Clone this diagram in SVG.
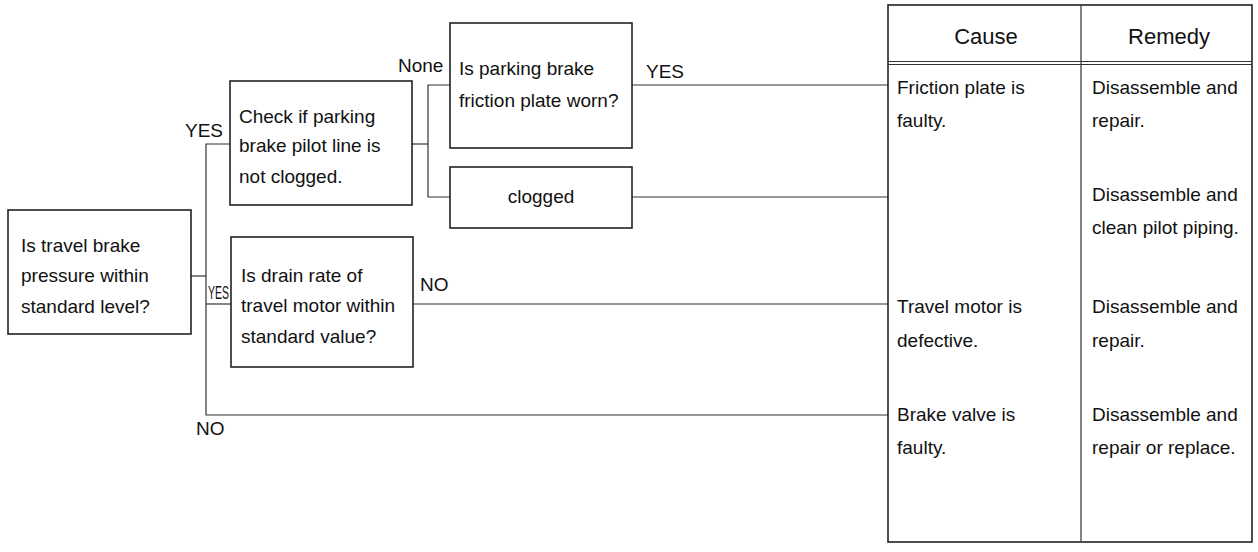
<svg xmlns="http://www.w3.org/2000/svg" width="1258" height="552" viewBox="0 0 1258 552">
<style>
text{font-family:"Liberation Sans",Arial,sans-serif;font-size:19px;fill:#111}
.box{fill:#fff;stroke:#222;stroke-width:1.6}
.ln{fill:none;stroke:#333;stroke-width:1.2}
.tb{fill:none;stroke:#222;stroke-width:1.6}
.hd{font-size:22px}
</style>
<rect width="1258" height="552" fill="#fff"/>
<g id="connectors">
<polyline class="ln" points="191,276 206,276"/>
<polyline class="ln" points="230,144 206,144 206,415 888,415"/>
<polyline class="ln" points="206,304 231,304"/>
<polyline class="ln" points="412,144 428,144"/>
<polyline class="ln" points="450,85 428,85 428,197 450,197"/>
<polyline class="ln" points="632,85 888,85"/>
<polyline class="ln" points="632,197 888,197"/>
<polyline class="ln" points="413,304 888,304"/>
<text x="185" y="137">YES</text>
<text x="208" y="299" textLength="21" lengthAdjust="spacingAndGlyphs">YES</text>
<text x="196" y="435">NO</text>
<text x="398" y="72">None</text>
<text x="646" y="78">YES</text>
<text x="420" y="291">NO</text>
</g>
<g id="n1">
<rect class="box" x="8" y="210" width="183" height="124"/>
<text x="21" y="252">Is travel brake</text>
<text x="21" y="282">pressure within</text>
<text x="21" y="313">standard level?</text>
</g>
<g id="n2">
<rect class="box" x="230" y="81" width="182" height="124"/>
<text x="239" y="123">Check if parking</text>
<text x="239" y="152">brake pilot line is</text>
<text x="239" y="183">not clogged.</text>
</g>
<g id="n3">
<rect class="box" x="231" y="237" width="182" height="130"/>
<text x="241" y="282">Is drain rate of</text>
<text x="241" y="312">travel motor within</text>
<text x="241" y="343">standard value?</text>
</g>
<g id="n4">
<rect class="box" x="450" y="23" width="182" height="125"/>
<text x="459" y="75">Is parking brake</text>
<text x="459" y="107">friction plate worn?</text>
</g>
<g id="n5">
<rect class="box" x="450" y="167" width="182" height="61"/>
<text x="541" y="203" text-anchor="middle">clogged</text>
</g>
<g id="table">
<rect class="tb" x="888" y="5" width="364" height="537"/>
<line class="ln" x1="1081" y1="5" x2="1081" y2="542"/>
<line class="ln" x1="888" y1="61.5" x2="1252" y2="61.5"/>
<line class="ln" x1="888" y1="64.5" x2="1252" y2="64.5"/>
<text class="hd" x="986" y="44" text-anchor="middle">Cause</text>
<text class="hd" x="1169" y="44" text-anchor="middle">Remedy</text>
<text x="897" y="94">Friction plate is</text>
<text x="897" y="127">faulty.</text>
<text x="1092" y="94">Disassemble and</text>
<text x="1092" y="127">repair.</text>
<text x="1092" y="201">Disassemble and</text>
<text x="1092" y="234">clean pilot piping.</text>
<text x="897" y="313">Travel motor is</text>
<text x="897" y="347">defective.</text>
<text x="1092" y="313">Disassemble and</text>
<text x="1092" y="347">repair.</text>
<text x="897" y="421">Brake valve is</text>
<text x="897" y="454">faulty.</text>
<text x="1092" y="421">Disassemble and</text>
<text x="1092" y="454">repair or replace.</text>
</g>
</svg>
